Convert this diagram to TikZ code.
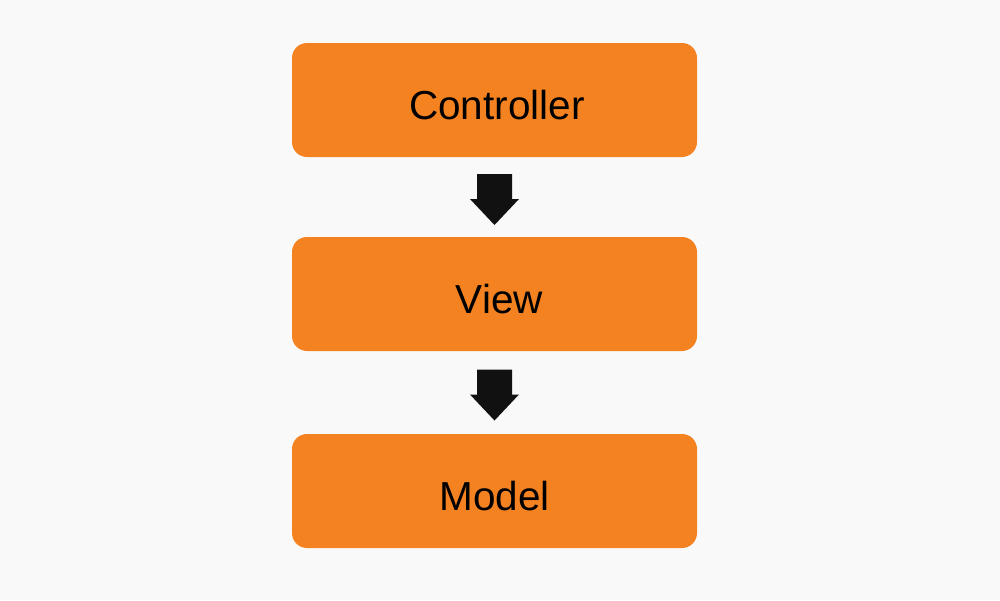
\documentclass[tikz,border=0pt]{standalone}
\usepackage{fontspec}
\setmainfont{Liberation Sans}
\usetikzlibrary{calc}
\definecolor{bg}{HTML}{F9F9F9}
\definecolor{boxorange}{HTML}{F58220}
\definecolor{arrowdark}{HTML}{111111}
\tikzset{
  x=1pt, y=1pt,
  layer/.style={fill=boxorange, rounded corners=15pt, minimum width=405pt, minimum height=114pt, inner sep=0pt, text height=38pt, text depth=0pt, font=\fontsize{40.5}{44}\selectfont, text=black},
  blockarrow/.pic={\fill[arrowdark] (-17.5,25.5) -- (17.5,25.5) -- (17.5,0.5) -- (24.5,0.5) -- (0,-25.5) -- (-24.5,0.5) -- (-17.5,0.5) -- cycle;}
}
\begin{document}
\begin{tikzpicture}
\fill[bg] (0,0) rectangle (1000,-600);
\useasboundingbox (0,0) rectangle (1000,-600);
\node[layer] (c) at (494.5,-100) {\hspace{5pt}Controller};
\node[layer] (v) at (494.5,-294) {\hspace{10pt}View};
\node[layer] (m) at (494.5,-491) {Model};
\path ($(c.south)!0.5!(v.north)$) ++(0,-2.5) pic {blockarrow};
\path ($(v.south)!0.5!(m.north)$) ++(0,-2.5) pic {blockarrow};
\end{tikzpicture}
\end{document}
